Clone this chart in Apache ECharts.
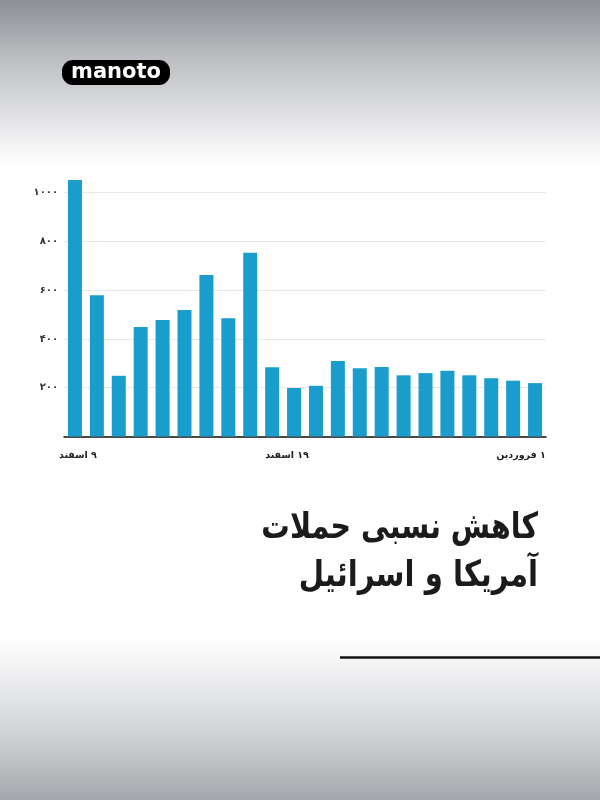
<!DOCTYPE html>
<html>
<head>
<meta charset="utf-8">
<script src="https://cdn.jsdelivr.net/npm/echarts@6/dist/echarts.min.js"></script>
<style>
html,body{margin:0;padding:0;background:#fff;}
#c{width:600px;height:800px;}
</style>
</head>
<body>
<div id="c" dir="rtl"></div>
<script>
// Data
var categories = ['۹ اسفند','۱۰ اسفند','۱۱ اسفند','۱۲ اسفند','۱۳ اسفند','۱۴ اسفند','۱۵ اسفند','۱۶ اسفند','۱۷ اسفند','۱۸ اسفند','۱۹ اسفند','۲۰ اسفند','۲۱ اسفند','۲۲ اسفند','۲۳ اسفند','۲۴ اسفند','۲۵ اسفند','۲۶ اسفند','۲۷ اسفند','۲۸ اسفند','۲۹ اسفند','۱ فروردین'];
var attacks = [1052, 579, 249, 449, 478, 519, 662, 485, 754, 284, 199, 208, 310, 280, 285, 251, 260, 270, 251, 239, 229, 219];
var shownLabelIndices = [0, 10, 21];
var yTickValues = [200, 400, 600, 800, 1000];
var yTickLabels = ['۲۰۰', '۴۰۰', '۶۰۰', '۸۰۰', '۱۰۰۰'];
var titleLines = ['کاهش نسبی حملات', 'آمریکا و اسرائیل'];
var logoText = 'manoto';

var chart = echarts.init(document.getElementById('c'), null, {renderer: 'canvas'});
var lblStyle = {fontSize: 9.5, fontWeight: 'bold', fontFamily: 'DejaVu Sans', color: '#222'};
var option = {
  backgroundColor: {
    type: 'linear', x: 0, y: 0, x2: 0, y2: 1,
    colorStops: [
      {offset: 0, color: '#8c8e94'},
      {offset: 0.04, color: '#a6a8ad'},
      {offset: 0.075, color: '#bdbfc3'},
      {offset: 0.125, color: '#d6d7da'},
      {offset: 0.165, color: '#ebebed'},
      {offset: 0.195, color: '#fafafa'},
      {offset: 0.215, color: '#ffffff'},
      {offset: 0.795, color: '#ffffff'},
      {offset: 0.81, color: '#fafafa'},
      {offset: 0.875, color: '#e2e3e6'},
      {offset: 0.9375, color: '#c8c9cd'},
      {offset: 1, color: '#a4a6ab'}
    ]
  },
  animation: false,
  grid: {left: 64, right: 54, top: 192.7, bottom: 363.5, containLabel: false},
  xAxis: {
    type: 'category',
    data: categories,
    axisLine: {show: true, lineStyle: {color: '#111', width: 1.5}},
    axisTick: {show: false},
    axisLabel: {
      interval: function (i) { return shownLabelIndices.indexOf(i) >= 0; },
      margin: 14,
      color: '#222',
      fontSize: 9.5,
      fontWeight: 'bold',
      fontFamily: 'DejaVu Sans',
      formatter: function (v, i) {
        if (i === 0) return '{a|' + v + '}';
        if (i === 10) return '{b|' + v + '}';
        return '{c|' + v + '}';
      },
      rich: {
        a: Object.assign({padding: [0, 0, 0, 6]}, lblStyle),
        b: Object.assign({padding: [0, 14, 0, 0]}, lblStyle),
        c: Object.assign({padding: [0, 28, 0, 0]}, lblStyle)
      }
    },
    splitLine: {show: false}
  },
  yAxis: {
    type: 'value',
    min: 0, max: 1000, interval: 200,
    axisLine: {show: false},
    axisTick: {show: false},
    axisLabel: {
      margin: 6,
      color: '#333',
      fontSize: 10,
      fontWeight: 'bold',
      fontFamily: 'DejaVu Sans',
      formatter: function (v) {
        var k = yTickValues.indexOf(v);
        return k >= 0 ? yTickLabels[k] : '';
      }
    },
    splitLine: {show: true, lineStyle: {color: '#e8e8e8', width: 1}}
  },
  series: [{
    type: 'bar',
    data: attacks,
    barWidth: 14,
    clip: false,
    itemStyle: {color: '#1a9dcd'}
  }],
  graphic: [
    {
      type: 'rect', left: 62, top: 60, z: 10,
      shape: {width: 108, height: 25, r: 11},
      style: {fill: '#000'}
    },
    {
      type: 'text', x: 116, y: 73, z: 11,
      style: {text: logoText, fill: '#fff', font: 'bold 21px "DejaVu Sans"', align: 'center', verticalAlign: 'middle'}
    },
    {
      type: 'text', x: 538, y: 529, z: 11, scaleX: 0.79,
      style: {text: titleLines[0], fill: '#1b1b1b', font: 'bold 36px "DejaVu Sans"', align: 'right', verticalAlign: 'middle'}
    },
    {
      type: 'text', x: 538, y: 577, z: 11, scaleX: 0.81,
      style: {text: titleLines[1], fill: '#1b1b1b', font: 'bold 36px "DejaVu Sans"', align: 'right', verticalAlign: 'middle'}
    },
    {
      type: 'line', z: 11,
      shape: {x1: 340, y1: 657.5, x2: 600, y2: 657.5},
      style: {stroke: '#111', lineWidth: 2.5}
    }
  ]
};
chart.setOption(option);
</script>
</body>
</html>
